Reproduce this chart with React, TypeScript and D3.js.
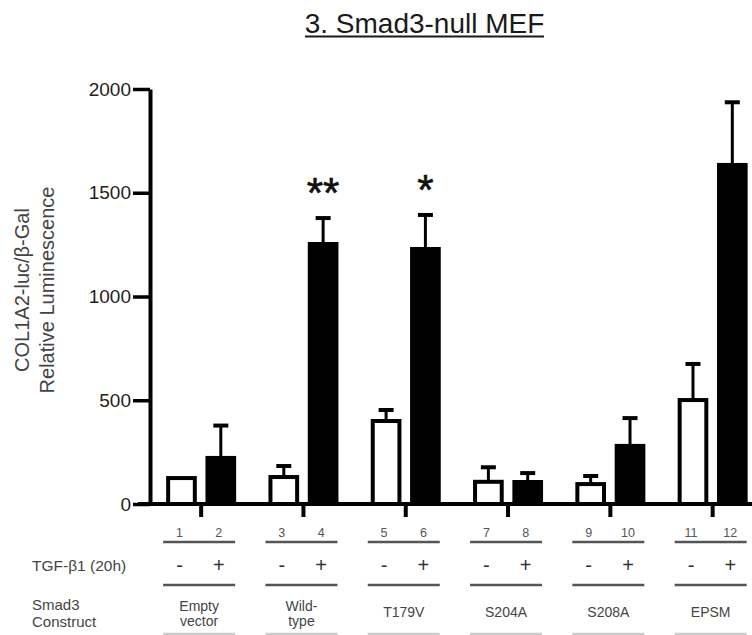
import { useEffect, useRef } from "react";
import * as d3 from "d3";

// values
const constructs = ["Empty vector", "Wild-type", "T179V", "S204A", "S208A", "EPSM"];
const constructLines = [["Empty", "vector"], ["Wild-", "type"], ["T179V"], ["S204A"], ["S208A"], ["EPSM"]];
const treatments = ["-", "+"];
const laneNumbers = [["1", "2"], ["3", "4"], ["5", "6"], ["7", "8"], ["9", "10"], ["11", "12"]];
const untreatedValues = [125, 130, 400, 107, 96, 501];
const untreatedErrors = [0, 53, 53, 70, 39, 174];
const treatedValues = [222, 1253, 1229, 106, 280, 1634];
const treatedErrors = [156, 125, 164, 43, 134, 302];
const significance = ["", "**", "*", "", "", ""];
const yTicks = [0, 500, 1000, 1500, 2000];

const FONT = "'Liberation Sans', Arial, Helvetica, sans-serif";

export default function App() {
  const svgRef = useRef<SVGSVGElement>(null);

  useEffect(() => {
    const svg = d3.select(svgRef.current);
    svg.selectAll("*").remove();

    const width = 752;
    const height = 635;
    svg.attr("width", width).attr("height", height);

    const rows = constructs.flatMap((c, i) => [
      { construct: c, treatment: "-", value: untreatedValues[i], err: untreatedErrors[i], lane: laneNumbers[i][0], star: "" },
      { construct: c, treatment: "+", value: treatedValues[i], err: treatedErrors[i], lane: laneNumbers[i][1], star: significance[i] },
    ]);

    const step = 102.3;
    const x = d3
      .scaleBand()
      .domain(constructs)
      .range([150, 150 + step * constructs.length]);

    const xInner = d3
      .scaleBand()
      .domain(treatments)
      .range([x.bandwidth() / 2 - 35, x.bandwidth() / 2 + 35])
      .paddingInner(0.22);

    const y = d3.scaleLinear().domain([0, 2000]).range([504, 89]);

    const barCenter = (d) => (x(d.construct) ?? 0) + (xInner(d.treatment) ?? 0) + xInner.bandwidth() / 2;
    const groupCenter = (c) => (x(c) ?? 0) + x.bandwidth() / 2;

    // title
    svg
      .append("text")
      .attr("x", 424.5)
      .attr("y", 33)
      .attr("text-anchor", "middle")
      .attr("font-family", FONT)
      .attr("font-size", 28)
      .attr("fill", "#1a1a1a")
      .text("3. Smad3-null MEF");
    svg
      .append("line")
      .attr("x1", 305)
      .attr("x2", 544)
      .attr("y1", 36.5)
      .attr("y2", 36.5)
      .attr("stroke", "#1a1a1a")
      .attr("stroke-width", 2);

    // y axis label
    const yLabel = svg
      .append("text")
      .attr("transform", "translate(0,290) rotate(-90)")
      .attr("text-anchor", "middle")
      .attr("font-family", FONT)
      .attr("font-size", 20)
      .attr("fill", "#444");
    yLabel.append("tspan").attr("x", 0).attr("y", 29).text("COL1A2-luc/β-Gal");
    yLabel.append("tspan").attr("x", 0).attr("y", 54).text("Relative Luminescence");

    // bars
    const bars = svg.append("g");
    bars
      .selectAll("rect")
      .data(rows)
      .enter()
      .append("rect")
      .attr("x", (d) => barCenter(d) - xInner.bandwidth() / 2 + 2)
      .attr("width", xInner.bandwidth() - 4)
      .attr("y", (d) => y(d.value))
      .attr("height", (d) => y(0) - y(d.value))
      .attr("fill", (d) => (d.treatment === "+" ? "#000" : "#fff"))
      .attr("stroke", "#000")
      .attr("stroke-width", 4);

    // error bars (upper half only)
    const errs = svg.append("g").selectAll("g").data(rows.filter((d) => d.err > 0)).enter().append("g");
    errs
      .append("line")
      .attr("x1", barCenter)
      .attr("x2", barCenter)
      .attr("y1", (d) => y(d.value))
      .attr("y2", (d) => y(d.value + d.err))
      .attr("stroke", "#000")
      .attr("stroke-width", 3);
    errs
      .append("line")
      .attr("x1", (d) => barCenter(d) - 7.5)
      .attr("x2", (d) => barCenter(d) + 7.5)
      .attr("y1", (d) => y(d.value + d.err))
      .attr("y2", (d) => y(d.value + d.err))
      .attr("stroke", "#000")
      .attr("stroke-width", 4);

    // significance stars
    svg
      .append("g")
      .selectAll("text")
      .data(rows.filter((d) => d.star))
      .enter()
      .append("text")
      .attr("x", barCenter)
      .attr("y", (d) => y(d.value + d.err) - 11)
      .attr("text-anchor", "middle")
      .attr("font-family", FONT)
      .attr("font-size", 42)
      .attr("fill", "#111")
      .attr("stroke", "#111")
      .attr("stroke-width", 0.6)
      .text((d) => d.star);

    // axes
    const yAxis = svg
      .append("g")
      .attr("transform", "translate(150,0)")
      .call(
        d3
          .axisLeft(y)
          .tickValues(yTicks)
          .tickFormat(d3.format("d"))
          .tickSize(17)
          .tickSizeOuter(0)
          .tickPadding(2)
      );
    yAxis.select(".domain").attr("stroke-width", 4);
    yAxis.selectAll(".tick line").attr("stroke-width", 3.5);
    yAxis
      .selectAll(".tick text")
      .attr("font-family", FONT)
      .attr("font-size", 19)
      .attr("fill", "#222");

    const xAxis = svg
      .append("g")
      .attr("transform", `translate(0,${y(0)})`)
      .call(d3.axisBottom(x).tickSize(13).tickSizeOuter(0).tickFormat(() => ""));
    xAxis.select(".domain").attr("stroke-width", 4).attr("d", `M138,0H${width + 20}`);
    xAxis.selectAll(".tick line").attr("stroke-width", 4);

    // table below the axis
    const table = svg.append("g").attr("font-family", FONT);

    table
      .selectAll(".lane")
      .data(rows)
      .enter()
      .append("text")
      .attr("class", "lane")
      .attr("x", (d) => barCenter(d) - 2)
      .attr("y", 537)
      .attr("text-anchor", "middle")
      .attr("font-size", 12.5)
      .attr("fill", "#555")
      .text((d) => d.lane);

    table
      .selectAll(".sign")
      .data(rows)
      .enter()
      .append("text")
      .attr("class", "sign")
      .attr("x", (d) => barCenter(d) - 2)
      .attr("y", 572)
      .attr("text-anchor", "middle")
      .attr("font-size", 20)
      .attr("fill", "#333")
      .text((d) => d.treatment);

    [542, 585, 634].forEach((ly, k) => {
      table
        .selectAll(`.rule${k}`)
        .data(constructs)
        .enter()
        .append("line")
        .attr("class", `rule${k}`)
        .attr("x1", (c) => groupCenter(c) - 38)
        .attr("x2", (c) => groupCenter(c) + 34)
        .attr("y1", ly)
        .attr("y2", ly)
        .attr("stroke", k === 2 ? "#ccc" : "#555")
        .attr("stroke-width", 2.5);
    });

    table
      .selectAll(".construct")
      .data(constructs)
      .enter()
      .append("g")
      .attr("class", "construct")
      .each(function (c, i) {
        const lines = constructLines[i];
        const g = d3.select(this);
        lines.forEach((s, j) => {
          g.append("text")
            .attr("x", groupCenter(c) - 2)
            .attr("y", lines.length === 1 ? 617 : 611 + j * 15)
            .attr("text-anchor", "middle")
            .attr("font-size", 14)
            .attr("fill", "#444")
            .text(s);
        });
      });

    table
      .append("text")
      .attr("x", 32)
      .attr("y", 571)
      .attr("font-size", 15.5)
      .attr("fill", "#444")
      .text("TGF-β1 (20h)");

    table.append("text").attr("x", 32).attr("y", 610).attr("font-size", 15).attr("fill", "#444").text("Smad3");
    table.append("text").attr("x", 32).attr("y", 627).attr("font-size", 15).attr("fill", "#444").text("Construct");
  }, []);

  return (
    <svg
      ref={svgRef}
      style={{ position: "absolute", left: 0, top: 0, display: "block", background: "#fff" }}
    ></svg>
  );
}
